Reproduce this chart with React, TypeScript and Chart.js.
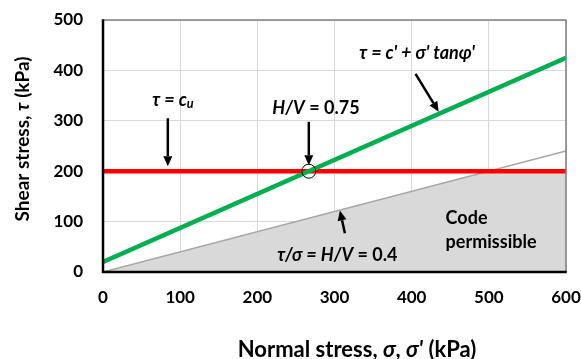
import React, { useEffect, useRef } from 'react';
import { Chart, registerables } from 'chart.js';
Chart.register(...registerables);

// ---- data ----
const xRange = [0, 600];
const yRange = [0, 500];
const tickStep = 100;
const sigmaEnds = [0, 600];
const undrainedTau = [200, 200]; // τ = cu
const drainedTau = [20, 425]; // τ = c' + σ' tanφ'
const codeLineTau = [0, 240]; // τ/σ = 0.4
const permissibleSigma = [0, 500, 600];
const permissibleTau = [0, 200, 200];
const intersectionPt = { x: 266.7, y: 200 };

// arrows: [tailX, tailY, headX, headY] in data units
const arrowList = [
  [84, 305, 84, 210],
  [266.7, 298, 266.7, 212],
  [405, 393, 435, 318],
  [313.5, 77, 307, 122],
];

type Run = { t: string; i?: boolean; sub?: boolean };
const labelList: { x: number; y: number; align: 'center' | 'left'; runs: Run[] }[] = [
  { x: 90.7, y: 341, align: 'center', runs: [{ t: 'τ', i: true }, { t: ' = ', i: true }, { t: 'c', i: true }, { t: 'u', i: true, sub: true }] },
  { x: 276, y: 325, align: 'center', runs: [{ t: 'H/V', i: true }, { t: ' = 0.75' }] },
  { x: 407, y: 434.5, align: 'center', runs: [{ t: "τ = c' + σ' tanφ'", i: true }] },
  { x: 303.8, y: 33.7, align: 'center', runs: [{ t: 'τ/σ = H/V', i: true }, { t: ' = 0.4' }] },
  { x: 444, y: 107, align: 'left', runs: [{ t: 'Code' }] },
  { x: 444, y: 59.5, align: 'left', runs: [{ t: 'permissible' }] },
];

const FONT = 'Lato, "Open Sans", sans-serif';

function fontStr(size: number, italic?: boolean) {
  return `${italic ? 'italic ' : ''}bold ${size}px ${FONT}`;
}

function drawRuns(ctx: CanvasRenderingContext2D, runs: Run[], x: number, y: number, align: string, size: number) {
  let total = 0;
  const widths = runs.map((r) => {
    ctx.font = fontStr(r.sub ? size * 0.7 : size, r.i);
    const w = ctx.measureText(r.t).width;
    total += w;
    return w;
  });
  let cx = align === 'center' ? x - total / 2 : x;
  ctx.textBaseline = 'middle';
  ctx.textAlign = 'left';
  runs.forEach((r, k) => {
    ctx.font = fontStr(r.sub ? size * 0.7 : size, r.i);
    ctx.fillText(r.t, cx, r.sub ? y + 4 : y);
    cx += widths[k];
  });
}

const overlay = {
  id: 'overlay',
  afterDatasetsDraw(chart: any) {
    const { ctx, chartArea: a, scales } = chart;
    const xs = scales.x;
    const ys = scales.y;
    ctx.save();
    // frame
    ctx.strokeStyle = '#7f7f7f';
    ctx.lineWidth = 1.5;
    ctx.beginPath();
    ctx.moveTo(a.left, a.top);
    ctx.lineTo(a.right, a.top);
    ctx.lineTo(a.right, a.bottom);
    ctx.stroke();
    ctx.strokeStyle = '#000';
    ctx.lineWidth = 2.5;
    ctx.beginPath();
    ctx.moveTo(a.left, a.top - 0.75);
    ctx.lineTo(a.left, a.bottom);
    ctx.lineTo(a.right + 0.75, a.bottom);
    ctx.stroke();
    // arrows
    ctx.fillStyle = '#000';
    arrowList.forEach(([x1, y1, x2, y2]) => {
      const px1 = xs.getPixelForValue(x1);
      const py1 = ys.getPixelForValue(y1);
      const px2 = xs.getPixelForValue(x2);
      const py2 = ys.getPixelForValue(y2);
      const ang = Math.atan2(py2 - py1, px2 - px1);
      const hl = 10;
      const hw = 4.5;
      const bx = px2 - hl * Math.cos(ang);
      const by = py2 - hl * Math.sin(ang);
      ctx.lineWidth = 2.5;
      ctx.beginPath();
      ctx.moveTo(px1, py1);
      ctx.lineTo(bx, by);
      ctx.stroke();
      ctx.beginPath();
      ctx.moveTo(px2, py2);
      ctx.lineTo(bx + hw * Math.sin(ang), by - hw * Math.cos(ang));
      ctx.lineTo(bx - hw * Math.sin(ang), by + hw * Math.cos(ang));
      ctx.closePath();
      ctx.fill();
    });
    // labels
    labelList.forEach((l) => {
      drawRuns(ctx, l.runs, xs.getPixelForValue(l.x), ys.getPixelForValue(l.y), l.align, 18);
    });
    // axis titles
    drawRuns(ctx, [{ t: 'Normal stress, ' }, { t: 'σ', i: true }, { t: ', ' }, { t: "σ'", i: true }, { t: ' (kPa)' }], 357, 350, 'center', 22);
    ctx.translate(23, 139);
    ctx.rotate(-Math.PI / 2);
    drawRuns(ctx, [{ t: 'Shear stress, ' }, { t: 'τ', i: true }, { t: ' (kPa)' }], 0, 0, 'center', 19);
    ctx.restore();
  },
};

const noPad = (s: any) => {
  s.paddingLeft = 0;
  s.paddingRight = 0;
  s.paddingTop = 0;
  s.paddingBottom = 0;
};

export default function App() {
  const ref = useRef<HTMLCanvasElement>(null);
  useEffect(() => {
    document.body.style.margin = '0';
    const pts = (xa: number[], ya: number[]) => xa.map((x, i) => ({ x, y: ya[i] }));
    const chart = new Chart(ref.current as HTMLCanvasElement, {
      type: 'scatter',
      data: {
        datasets: [
          { data: [intersectionPt], showLine: false, pointRadius: 7, pointBorderColor: '#000', pointBackgroundColor: 'rgba(0,0,0,0)', pointBorderWidth: 1 } as any,
          { data: pts(sigmaEnds, drainedTau), showLine: true, borderColor: '#00b050', borderWidth: 4.5, pointRadius: 0 },
          { data: pts(sigmaEnds, undrainedTau), showLine: true, borderColor: '#ff0000', borderWidth: 4.5, pointRadius: 0 },
          { data: pts(sigmaEnds, codeLineTau), showLine: true, borderColor: '#a6a6a6', borderWidth: 1.5, pointRadius: 0 },
          { data: pts(permissibleSigma, permissibleTau), showLine: true, borderWidth: 0, borderColor: 'rgba(0,0,0,0)', backgroundColor: '#d9d9d9', fill: 'origin', pointRadius: 0 } as any,
        ],
      },
      options: {
        responsive: false,
        animation: false,
        events: [],
        layout: { padding: { top: 20, right: 15, left: 0, bottom: 0 } },
        plugins: { legend: { display: false }, tooltip: { enabled: false } },
        scales: {
          x: {
            type: 'linear',
            min: xRange[0],
            max: xRange[1],
            afterFit: (s: any) => { s.height = 87; noPad(s); },
            ticks: { stepSize: tickStep, color: '#000', font: { family: FONT, size: 17, weight: 'bold' }, padding: 15 },
            grid: { color: '#d9d9d9', drawTicks: false },
            border: { display: false },
          },
          y: {
            type: 'linear',
            min: yRange[0],
            max: yRange[1],
            afterFit: (s: any) => { s.width = 103; noPad(s); },
            ticks: { stepSize: tickStep, color: '#000', font: { family: FONT, size: 17, weight: 'bold' }, padding: 20 },
            grid: { color: '#d9d9d9', drawTicks: false },
            border: { display: false },
          },
        },
      },
      plugins: [overlay],
    });
    return () => chart.destroy();
  }, []);
  return (
    <div style={{ width: 581, height: 359 }}>
      <canvas ref={ref} width={581} height={359} />
    </div>
  );
}
